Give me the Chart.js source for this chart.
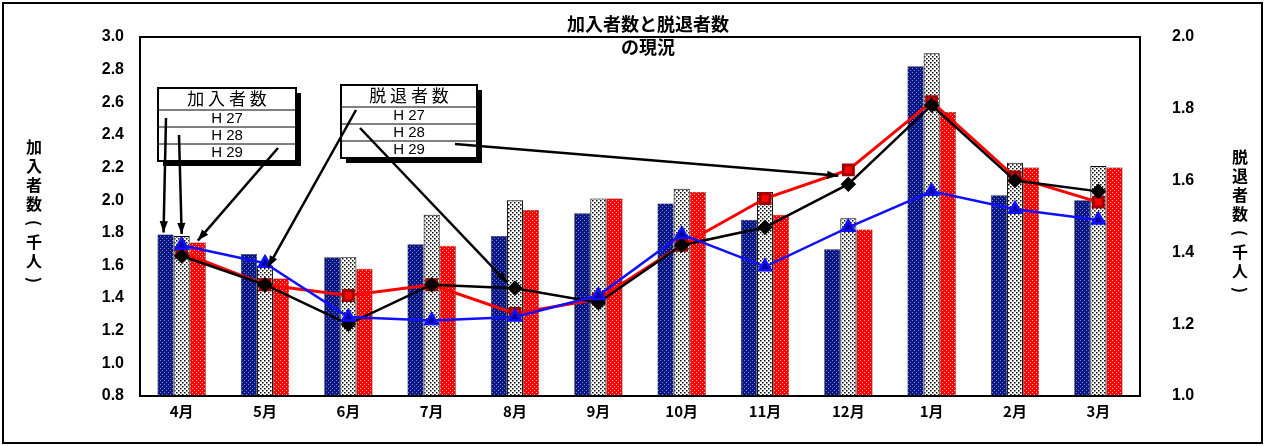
<!DOCTYPE html>
<html><head><meta charset="utf-8">
<script src="https://cdn.jsdelivr.net/npm/chart.js@4/dist/chart.umd.min.js"></script>
<style>
html,body{margin:0;padding:0;background:#fff;}
#wrap{width:1265px;height:446px;position:relative;}
</style></head><body>
<div id="wrap"><canvas id="c" width="1265" height="446"></canvas></div>
<script>
// 加入者数 (左軸, 千人) と 脱退者数 (右軸, 千人)
const months = ["4月","5月","6月","7月","8月","9月","10月","11月","12月","1月","2月","3月"];
const joinH27 = [1.79,1.67,1.65,1.73,1.78,1.92,1.98,1.88,1.70,2.82,2.03,2.00];
const joinH28 = [1.78,1.60,1.65,1.91,2.00,2.01,2.07,2.05,1.89,2.90,2.23,2.21];
const joinH29 = [1.74,1.52,1.58,1.72,1.94,2.01,2.05,1.91,1.82,2.54,2.20,2.20];
const leaveH27 = [1.42,1.37,1.22,1.21,1.22,1.28,1.45,1.36,1.47,1.57,1.52,1.49];
const leaveH28 = [1.39,1.31,1.20,1.31,1.30,1.26,1.42,1.47,1.59,1.81,1.60,1.57];
const leaveH29 = [1.40,1.31,1.28,1.31,1.23,1.27,1.42,1.55,1.63,1.82,1.61,1.54];
const leftTicks = [0.8,1.0,1.2,1.4,1.6,1.8,2.0,2.2,2.4,2.6,2.8,3.0];

const FONT = "'Liberation Sans', Arial, sans-serif";
const JFONT = "'Noto Sans CJK JP', sans-serif";

function dotPattern(bg, dot, step, sz) {
  const p = document.createElement("canvas");
  p.width = step; p.height = step;
  const g = p.getContext("2d");
  g.fillStyle = bg; g.fillRect(0, 0, step, step);
  g.fillStyle = dot;
  g.fillRect(0, 0, sz, sz);
  g.fillRect(step / 2, step / 2, sz, sz);
  return g.createPattern(p, "repeat");
}
const ctx0 = document.getElementById("c").getContext("2d");
const patBlue = dotPattern("#0a1880", "#7080e0", 4, 1);
const patWhite = dotPattern("#ffffff", "#000000", 4, 1.5);
const patRed = dotPattern("#ff0000", "#ffc0c0", 4, 1);

function arrow(ctx, x1, y1, x2, y2) {
  const a = Math.atan2(y2 - y1, x2 - x1), h = 12;
  ctx.beginPath(); ctx.moveTo(x1, y1); ctx.lineTo(x2, y2); ctx.stroke();
  ctx.beginPath();
  ctx.moveTo(x2, y2);
  ctx.lineTo(x2 - h * Math.cos(a - 0.35), y2 - h * Math.sin(a - 0.35));
  ctx.lineTo(x2 - h * Math.cos(a + 0.35), y2 - h * Math.sin(a + 0.35));
  ctx.closePath(); ctx.fill();
}
function legendBox(ctx, x, y, w, title, rows) {
  const rh = 17, h = 22 + rh * rows.length;
  ctx.fillStyle = "#000"; ctx.fillRect(x + 5, y + 5, w, h);
  ctx.fillStyle = "#fff"; ctx.fillRect(x, y, w, h);
  ctx.strokeStyle = "#000"; ctx.lineWidth = 2; ctx.strokeRect(x, y, w, h);
  ctx.lineWidth = 1;
  ctx.fillStyle = "#000"; ctx.textAlign = "center"; ctx.textBaseline = "middle";
  ctx.font = "17px " + JFONT;
  ctx.fillText(title.split("").join(" "), x + w / 2, y + 11);
  ctx.font = "15px " + FONT;
  rows.forEach((r, i) => {
    const ry = y + 22 + i * rh;
    ctx.beginPath(); ctx.moveTo(x, ry); ctx.lineTo(x + w, ry); ctx.stroke();
    ctx.fillText(r, x + w / 2, ry + rh / 2);
  });
  return h;
}

const decor = {
  id: "decor",
  afterDraw(chart) {
    const { ctx, chartArea: ca, scales } = chart;
    ctx.save();
    ctx.strokeStyle = "#000"; ctx.lineWidth = 2;
    ctx.strokeRect(3, 3, 1259, 440);
    ctx.strokeRect(ca.left, ca.top, ca.right - ca.left, ca.bottom - ca.top);
    ctx.fillStyle = "#000"; ctx.textAlign = "center"; ctx.textBaseline = "middle";
    ctx.font = "bold 18px " + JFONT;
    ctx.fillText("加入者数と脱退者数", 648, 24);
    ctx.fillText("の現況", 648, 47);
    ctx.font = "bold 16px " + JFONT;
    const vert = (s, x, y0) => s.split("").forEach((ch, i) => {
      if ("()".includes(ch)) {
        ctx.save(); ctx.translate(x, y0 + i * 19); ctx.rotate(Math.PI / 2);
        ctx.fillText(ch, 0, 0); ctx.restore();
      } else ctx.fillText(ch, x, y0 + i * 19);
    });
    vert("加入", 34, 147); vert("者数(千人)", 34, 185);
    vert("脱退", 1240, 157); vert("者数(千人)", 1240, 195);
    legendBox(ctx, 158, 88, 138, "加入者数", ["H 27", "H 28", "H 29"]);
    legendBox(ctx, 341, 85, 136, "脱退者数", ["H 27", "H 28", "H 29"]);
    ctx.strokeStyle = "#000"; ctx.fillStyle = "#000"; ctx.lineWidth = 2.5;
    const yL = scales.y;
    const barMeta = [3, 4, 5].map(i => chart.getDatasetMeta(i).data[0]);
    arrow(ctx, 166, 118, barMeta[0].x - 2, yL.getPixelForValue(joinH27[0]) - 2);
    arrow(ctx, 179, 135, barMeta[1].x, yL.getPixelForValue(joinH28[0]) - 2);
    arrow(ctx, 278, 148, barMeta[2].x, yL.getPixelForValue(joinH29[0]) - 2);
    const pt = (ds, i) => chart.getDatasetMeta(ds).data[i];
    let p = pt(0, 1); arrow(ctx, 356, 110, p.x + 3, p.y + 4);
    p = pt(1, 4); arrow(ctx, 360, 128, p.x - 8, p.y - 6);
    p = pt(2, 8); arrow(ctx, 455, 144, p.x - 10, p.y + 6);
    ctx.restore();
  }
};

new Chart(ctx0, {
  data: {
    labels: months,
    datasets: [
      { type: "line", label: "脱退 H27", data: leaveH27, yAxisID: "y2", borderColor: "#1010ff", backgroundColor: "#0000a0", pointStyle: "triangle", pointRadius: 7, borderWidth: 2.5, order: 0 },
      { type: "line", label: "脱退 H28", data: leaveH28, yAxisID: "y2", borderColor: "#000", backgroundColor: "#000", pointStyle: "rectRot", pointRadius: 6, borderWidth: 2.5, order: 0 },
      { type: "line", label: "脱退 H29", data: leaveH29, yAxisID: "y2", borderColor: "#ff0000", backgroundColor: "#ff0000", pointStyle: "rect", pointRadius: 7, pointBorderColor: "#a00000", borderWidth: 3, order: 0 },
      { type: "bar", label: "加入 H27", data: joinH27, yAxisID: "y", backgroundColor: patBlue, borderColor: "#000", borderWidth: 0.5, order: 1 },
      { type: "bar", label: "加入 H28", data: joinH28, yAxisID: "y", backgroundColor: patWhite, borderColor: "#000", borderWidth: 1, order: 1 },
      { type: "bar", label: "加入 H29", data: joinH29, yAxisID: "y", backgroundColor: patRed, borderColor: "#000", borderWidth: 0.5, order: 1 }
    ].map((d, i) => i < 3 ? d : Object.assign(d, { categoryPercentage: 0.58, barPercentage: 1.0 }))
  },
  options: {
    responsive: false, animation: false,
    layout: { padding: { top: 37 } },
    plugins: { legend: { display: false }, tooltip: { enabled: false } },
    scales: {
      x: {
        grid: { display: false, drawTicks: false }, border: { display: false },
        ticks: { color: "#000", font: { family: JFONT, size: 15, weight: "bold" }, padding: 6 },
        afterFit(s) { s.height = 50; }
      },
      y: {
        position: "left", min: 0.8, max: 3.0,
        afterBuildTicks(s) { s.ticks = leftTicks.map(v => ({ value: v })); },
        grid: { display: false }, border: { display: false },
        ticks: { color: "#000", font: { family: FONT, size: 16, weight: "bold" }, callback: v => v.toFixed(1), padding: 8 },
        afterFit(s) { s.width = 140; }
      },
      y2: {
        position: "right", min: 1.0, max: 2.0,
        ticks: { stepSize: 0.2, color: "#000", font: { family: FONT, size: 16, weight: "bold" }, callback: v => v.toFixed(1), padding: 24 },
        grid: { display: false }, border: { display: false },
        afterFit(s) { s.width = 125; }
      }
    }
  },
  plugins: [decor]
});
</script>
</body></html>
